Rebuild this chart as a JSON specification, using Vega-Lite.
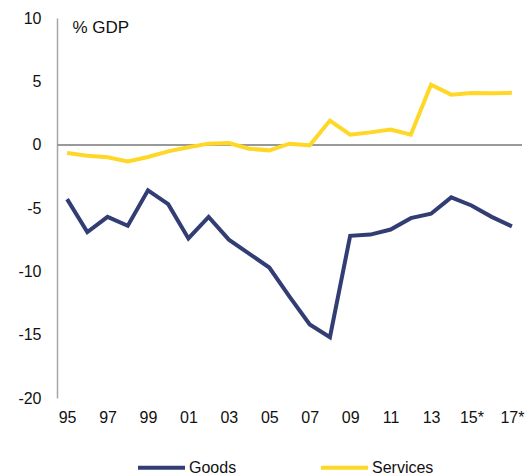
{
  "$schema": "https://vega.github.io/schema/vega-lite/v6.json",
  "width": 465,
  "height": 380,
  "autosize": {"type": "none"},
  "padding": {"left": 57, "top": 18, "right": 7, "bottom": 78},
  "background": "white",
  "config": {
    "view": {"stroke": null},
    "font": "Liberation Sans",
    "axis": {"labelFont": "Liberation Sans", "labelFontSize": 16, "labelColor": "#111111", "grid": false, "ticks": false},
    "legend": {"labelFont": "Liberation Sans", "labelFontSize": 16, "labelColor": "#111111"}
  },
  "data": {
    "values": [
      {"year": "95", "series": "Goods", "value": -4.3},
      {"year": "96", "series": "Goods", "value": -6.9},
      {"year": "97", "series": "Goods", "value": -5.7},
      {"year": "98", "series": "Goods", "value": -6.4},
      {"year": "99", "series": "Goods", "value": -3.6},
      {"year": "00", "series": "Goods", "value": -4.7},
      {"year": "01", "series": "Goods", "value": -7.4},
      {"year": "02", "series": "Goods", "value": -5.7},
      {"year": "03", "series": "Goods", "value": -7.5},
      {"year": "04", "series": "Goods", "value": -8.6},
      {"year": "05", "series": "Goods", "value": -9.7},
      {"year": "06", "series": "Goods", "value": -12.0},
      {"year": "07", "series": "Goods", "value": -14.2},
      {"year": "08", "series": "Goods", "value": -15.2},
      {"year": "09", "series": "Goods", "value": -7.2},
      {"year": "10", "series": "Goods", "value": -7.1},
      {"year": "11", "series": "Goods", "value": -6.7},
      {"year": "12", "series": "Goods", "value": -5.8},
      {"year": "13", "series": "Goods", "value": -5.45},
      {"year": "14", "series": "Goods", "value": -4.16},
      {"year": "15*", "series": "Goods", "value": -4.8},
      {"year": "16*", "series": "Goods", "value": -5.7},
      {"year": "17*", "series": "Goods", "value": -6.45},
      {"year": "95", "series": "Services", "value": -0.66},
      {"year": "96", "series": "Services", "value": -0.87},
      {"year": "97", "series": "Services", "value": -1.0},
      {"year": "98", "series": "Services", "value": -1.32},
      {"year": "99", "series": "Services", "value": -0.97},
      {"year": "00", "series": "Services", "value": -0.53},
      {"year": "01", "series": "Services", "value": -0.21},
      {"year": "02", "series": "Services", "value": 0.08},
      {"year": "03", "series": "Services", "value": 0.13},
      {"year": "04", "series": "Services", "value": -0.32},
      {"year": "05", "series": "Services", "value": -0.45},
      {"year": "06", "series": "Services", "value": 0.08},
      {"year": "07", "series": "Services", "value": -0.05},
      {"year": "08", "series": "Services", "value": 1.9},
      {"year": "09", "series": "Services", "value": 0.79},
      {"year": "10", "series": "Services", "value": 0.97},
      {"year": "11", "series": "Services", "value": 1.19},
      {"year": "12", "series": "Services", "value": 0.79},
      {"year": "13", "series": "Services", "value": 4.74},
      {"year": "14", "series": "Services", "value": 3.95},
      {"year": "15*", "series": "Services", "value": 4.08},
      {"year": "16*", "series": "Services", "value": 4.06},
      {"year": "17*", "series": "Services", "value": 4.09}
    ]
  },
  "encoding": {
    "x": {
      "field": "year",
      "type": "ordinal",
      "scale": {
        "type": "point",
        "padding": 0.5,
        "domain": ["95","96","97","98","99","00","01","02","03","04","05","06","07","08","09","10","11","12","13","14","15*","16*","17*"]
      },
      "axis": {
        "title": null,
        "domain": false,
        "labelAngle": 0,
        "labelPadding": 11,
        "values": ["95","97","99","01","03","05","07","09","11","13","15*","17*"]
      }
    }
  },
  "layer": [
    {
      "mark": {"type": "rule", "color": "#999999", "strokeWidth": 1.5},
      "encoding": {"x": null, "y": {"datum": 0, "type": "quantitative"}}
    },
    {
      "mark": {"type": "line", "strokeWidth": 4},
      "encoding": {
        "y": {
          "field": "value",
          "type": "quantitative",
          "scale": {"domain": [-20, 10], "nice": false, "zero": false},
          "axis": {
            "values": [-20, -15, -10, -5, 0, 5, 10],
            "labelExpr": "toString(datum.value)",
            "domainColor": "#a6a6a6",
            "domainWidth": 1.5,
            "labelPadding": 16,
            "title": "% GDP",
            "titleAngle": 0,
            "titleAlign": "left",
            "titleBaseline": "top",
            "titleX": 15,
            "titleY": 1,
            "titleFont": "Liberation Sans",
            "titleFontSize": 17,
            "titleFontWeight": "normal",
            "titleColor": "#111111"
          }
        },
        "color": {
          "field": "series",
          "type": "nominal",
          "scale": {"domain": ["Goods", "Services"], "range": ["#323d74", "#ffd726"]},
          "legend": {
            "title": null,
            "orient": "none",
            "direction": "horizontal",
            "legendX": 79,
            "legendY": 424,
            "symbolType": "stroke",
            "symbolSize": 2209,
            "symbolStrokeWidth": 4,
            "labelOffset": 2,
            "columnPadding": 76
          }
        }
      }
    }
  ]
}
